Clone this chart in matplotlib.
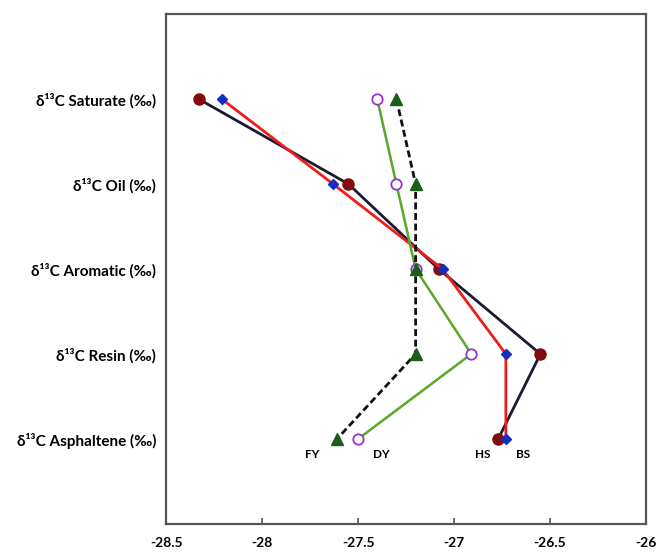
import matplotlib
matplotlib.use("Agg")
import matplotlib.pyplot as plt

# fractions, top to bottom
labels = ["δ¹³C Saturate (‰)", "δ¹³C Oil (‰)", "δ¹³C Aromatic (‰)",
          "δ¹³C Resin (‰)", "δ¹³C Asphaltene (‰)"]
ypos = [5, 4, 3, 2, 1]

bs = [-28.21, -27.63, -27.06, -26.73, -26.73]
hs = [-28.33, -27.55, -27.08, -26.55, -26.77]
dy = [-27.40, -27.30, -27.20, -26.91, -27.50]
fy = [-27.30, -27.20, -27.20, -27.20, -27.61]

xticks = [-28.5, -28, -27.5, -27, -26.5, -26]
xticklabels = ["-28.5", "-28", "-27.5", "-27", "-26.5", "-26"]

# sample names written under the bottom row
names = ["FY", "DY", "HS", "BS"]
name_x = [-27.74, -27.38, -26.85, -26.64]
name_y = 0.82

fam = ["Lato", "DejaVu Sans"]
plt.rcParams['font.family'] = fam

fig = plt.figure(figsize=(6.57, 5.52), dpi=100)
ax = fig.add_axes([0.2527, 0.0507, 0.7306, 0.9239])

ax.plot(bs, ypos, color="#ee1c1c", lw=2, marker="D", ms=5.5,
        mfc="#1030c0", mec="#1030c0", zorder=3)
ax.plot(hs, ypos, color="#1a1a33", lw=2, marker="o", ms=8,
        mfc="#800d10", mec="#800d10", zorder=2)
ax.plot(dy, ypos, color="#5aa82a", lw=1.8, marker="o", ms=7.5,
        mfc="white", mec="#9933cc", mew=1.3, zorder=4)
ax.plot(fy, ypos, color="#111111", lw=2, ls=(0, (2.5, 1.3)), marker="^", ms=8,
        mfc="#1b5e1b", mec="#1b5e1b", zorder=5)

for n, x in zip(names, name_x):
    ax.text(x, name_y, n, ha="center", va="center", fontsize=8.5,
            fontweight="bold", family=fam)

ax.set_xlim(-28.5, -26)
ax.set_ylim(0, 6)
ax.set_xticks(xticks)
ax.set_xticklabels(xticklabels, fontsize=10, fontweight="bold")
ax.set_yticks(ypos)
ax.set_yticklabels(labels, fontsize=11, fontweight="bold")
ax.tick_params(axis="x", direction="in", length=4, width=1.2, pad=9, colors="#555555", labelcolor="black")
ax.tick_params(axis="y", length=0, pad=7)
for s in ax.spines.values():
    s.set_color("#555555")
    s.set_linewidth(1.6)

fig.savefig("out.png", dpi=100)
